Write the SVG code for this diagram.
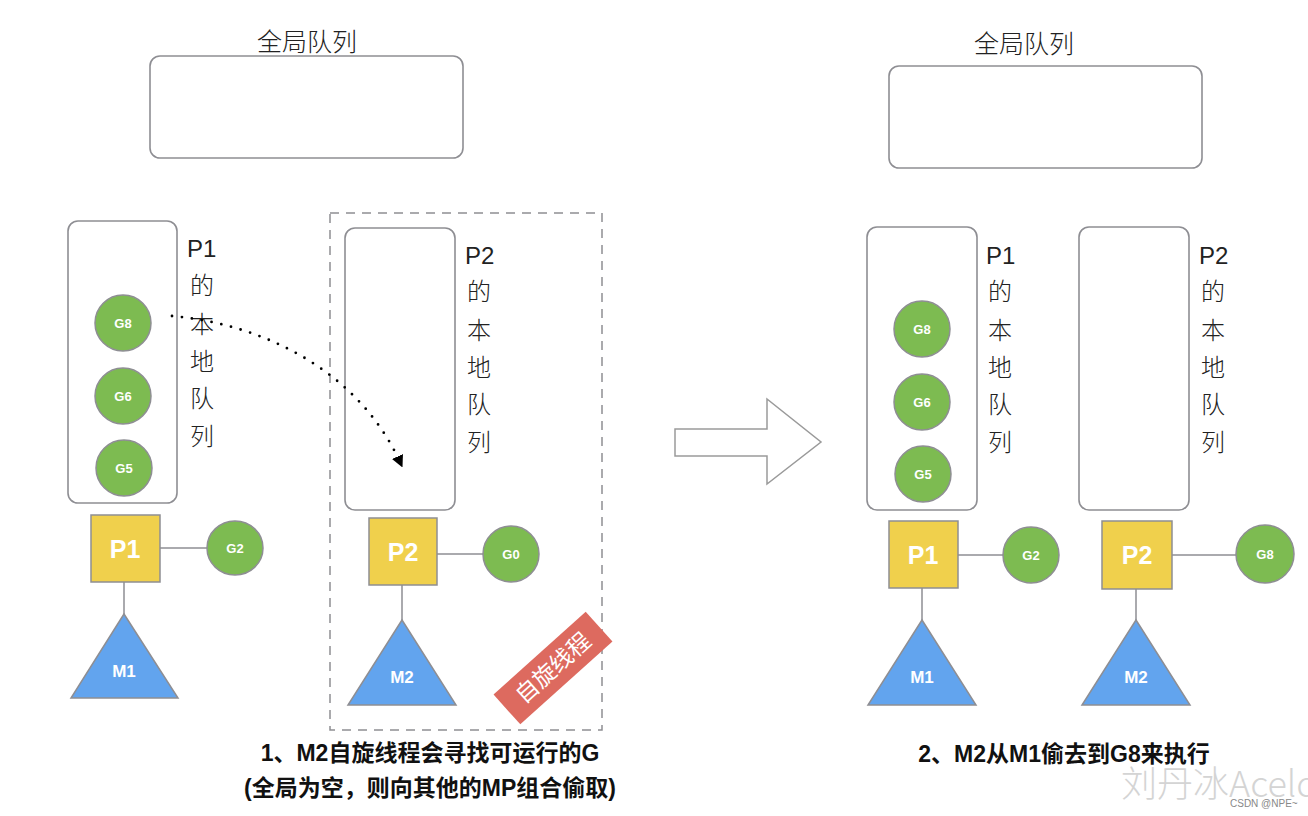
<svg xmlns="http://www.w3.org/2000/svg" width="1308" height="816" viewBox="0 0 1308 816">
<style>
.box{fill:#fff;stroke:#8e8e93;stroke-width:1.6}
.g{fill:#7dbb51;stroke:#8e8e93;stroke-width:1.5}
.p{fill:#f0d04c;stroke:#8e8e93;stroke-width:1.5}
.m{fill:#62a4ee;stroke:#8e8e93;stroke-width:1.5}
.ln{stroke:#8e8e93;stroke-width:1.5;fill:none}
.lbl{font-family:"Liberation Sans","Noto Sans CJK SC",sans-serif;font-weight:300;fill:#222}
.vt{font-size:24px}
.gt{font-family:"Liberation Sans",Arial,sans-serif;font-weight:bold;fill:#fff;font-size:13px;text-anchor:middle}
.pt{font-family:"Liberation Sans",Arial,sans-serif;font-weight:bold;fill:#fff;font-size:25px;text-anchor:middle}
.mt{font-family:"Liberation Sans",Arial,sans-serif;font-weight:bold;fill:#fff;font-size:17px;text-anchor:middle}
.cap{font-family:"Liberation Sans","Noto Sans CJK SC",sans-serif;font-weight:bold;fill:#111;font-size:23px;text-anchor:middle}
</style>
<defs>
<marker id="tri" markerWidth="12" markerHeight="12" refX="6" refY="6" orient="auto" markerUnits="userSpaceOnUse">
<path d="M0,0 L12,6 L0,12 z" fill="#000"/>
</marker>
</defs>
<rect width="1308" height="816" fill="#fff"/>

<!-- Left scene -->
<g id="global-left">
<text class="lbl" x="307" y="51" font-size="25" text-anchor="middle">全局队列</text>
<rect class="box" x="150" y="56" width="313" height="102" rx="10"/>
</g>
<g id="spin-box">
<rect x="330" y="213" width="272" height="517" fill="none" stroke="#8e8e93" stroke-width="1.5" stroke-dasharray="9,7"/>
</g>
<g id="p1-local-left">
<rect class="box" x="68" y="221" width="109" height="282" rx="10"/>
<text class="lbl vt" x="187" y="257">P1</text>
<text class="lbl vt" x="190" y="294">的</text>
<text class="lbl vt" x="190" y="333">本</text>
<text class="lbl vt" x="190" y="370">地</text>
<text class="lbl vt" x="190" y="407">队</text>
<text class="lbl vt" x="190" y="445">列</text>
</g>
<g id="g8-left"><circle class="g" cx="123" cy="323" r="28"/><text class="gt" x="123" y="328">G8</text></g>
<g id="g6-left"><circle class="g" cx="123" cy="396" r="28"/><text class="gt" x="123" y="401">G6</text></g>
<g id="g5-left"><circle class="g" cx="124" cy="468" r="28"/><text class="gt" x="124" y="473">G5</text></g>
<g id="p1-left"><rect class="p" x="91" y="515" width="69" height="67"/><text class="pt" x="125" y="558">P1</text></g>
<g id="g2-left"><ellipse class="g" cx="235" cy="548" rx="28" ry="27"/><text class="gt" x="235" y="553">G2</text></g>
<g id="m1-left"><polygon class="m" points="124,614 178,698 71,698"/><text class="mt" x="124" y="677">M1</text></g>

<g id="p2-local-left">
<rect class="box" x="345" y="228" width="110" height="282" rx="10"/>
<text class="lbl vt" x="465" y="264">P2</text>
<text class="lbl vt" x="467" y="300">的</text>
<text class="lbl vt" x="467" y="339">本</text>
<text class="lbl vt" x="467" y="376">地</text>
<text class="lbl vt" x="467" y="413">队</text>
<text class="lbl vt" x="467" y="451">列</text>
</g>
<g id="p2-left"><rect class="p" x="369" y="518" width="68" height="67"/><text class="pt" x="403" y="561">P2</text></g>
<g id="g0-left"><circle class="g" cx="511" cy="554" r="28"/><text class="gt" x="511" y="559">G0</text></g>
<g id="m2-left"><polygon class="m" points="402,620 456,705 348,705"/><text class="mt" x="402" y="683">M2</text></g>
<g id="spin-tag" transform="translate(553,668) rotate(-42)">
<rect x="-62" y="-20" width="124" height="40" fill="#dd6a5f"/>
<text x="0" y="8" font-family="'Noto Sans CJK SC',sans-serif" font-size="23" fill="#fff" text-anchor="middle">自旋线程</text>
</g>

<g id="caption-left">
<text class="cap" x="430" y="761">1、M2自旋线程会寻找可运行的G</text>
<text class="cap" x="430" y="796">(全局为空，则向其他的MP组合偷取)</text>
</g>

<!-- Connectors -->
<g id="connectors">
<line class="ln" x1="160" y1="548" x2="207" y2="548"/>
<line class="ln" x1="124" y1="582" x2="124" y2="614"/>
<line class="ln" x1="437" y1="554" x2="483" y2="554"/>
<line class="ln" x1="402" y1="585" x2="402" y2="620"/>
<line class="ln" x1="958" y1="555" x2="1003" y2="555"/>
<line class="ln" x1="922" y1="588" x2="922" y2="620"/>
<line class="ln" x1="1172" y1="555" x2="1236" y2="555"/>
<line class="ln" x1="1136" y1="589" x2="1136" y2="620"/>
<path d="M172,316 C270,325 360,375 400,462" fill="none" stroke="#000" stroke-width="2.8" stroke-linecap="round" stroke-dasharray="0,10" marker-end="url(#tri)"/>
<polygon points="675,429 767,429 767,399 821,442 767,484 767,456 675,456" fill="#fff" stroke="#9a9a9a" stroke-width="1.5"/>
</g>

<!-- Right scene -->
<g id="global-right">
<text class="lbl" x="1024" y="53" font-size="25" text-anchor="middle">全局队列</text>
<rect class="box" x="889" y="66" width="313" height="102" rx="10"/>
</g>
<g id="p1-local-right">
<rect class="box" x="867" y="227" width="110" height="283" rx="10"/>
<text class="lbl vt" x="986" y="264">P1</text>
<text class="lbl vt" x="988" y="300">的</text>
<text class="lbl vt" x="988" y="339">本</text>
<text class="lbl vt" x="988" y="376">地</text>
<text class="lbl vt" x="988" y="413">队</text>
<text class="lbl vt" x="988" y="451">列</text>
</g>
<g id="g8-right"><circle class="g" cx="922" cy="329" r="28"/><text class="gt" x="922" y="334">G8</text></g>
<g id="g6-right"><circle class="g" cx="922" cy="402" r="28"/><text class="gt" x="922" y="407">G6</text></g>
<g id="g5-right"><circle class="g" cx="923" cy="474" r="28"/><text class="gt" x="923" y="479">G5</text></g>
<g id="p1-right"><rect class="p" x="889" y="521" width="69" height="67"/><text class="pt" x="923" y="564">P1</text></g>
<g id="g2-right"><circle class="g" cx="1031" cy="555" r="28"/><text class="gt" x="1031" y="560">G2</text></g>
<g id="m1-right"><polygon class="m" points="922,620 976,705 868,705"/><text class="mt" x="922" y="683">M1</text></g>

<g id="p2-local-right">
<rect class="box" x="1079" y="227" width="110" height="283" rx="10"/>
<text class="lbl vt" x="1199" y="264">P2</text>
<text class="lbl vt" x="1201" y="300">的</text>
<text class="lbl vt" x="1201" y="339">本</text>
<text class="lbl vt" x="1201" y="376">地</text>
<text class="lbl vt" x="1201" y="413">队</text>
<text class="lbl vt" x="1201" y="451">列</text>
</g>
<g id="p2-right"><rect class="p" x="1102" y="521" width="70" height="68"/><text class="pt" x="1137" y="564">P2</text></g>
<g id="g8-moved"><circle class="g" cx="1265" cy="554" r="29"/><text class="gt" x="1265" y="559">G8</text></g>
<g id="m2-right"><polygon class="m" points="1136,620 1190,705 1082,705"/><text class="mt" x="1136" y="683">M2</text></g>

<g id="caption-right">
<text class="cap" x="1064" y="762">2、M2从M1偷去到G8来执行</text>
</g>

<g id="watermark">
<text x="1121" y="797" font-family="'Noto Sans CJK SC',sans-serif" font-weight="300" font-size="36" fill="#d4d4d4">刘丹冰Aceld</text>
<text x="1230" y="807" font-family="'Liberation Sans',sans-serif" font-size="10" fill="#888">CSDN @NPE~</text>
</g>
</svg>
